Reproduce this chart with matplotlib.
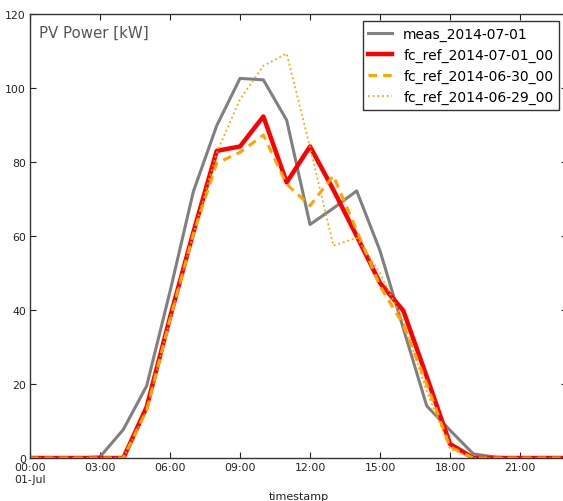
import matplotlib
matplotlib.use("Agg")
import matplotlib.pyplot as plt
import pandas as pd

hours = pd.date_range("2014-07-01 00:00", periods=24, freq="h")

meas = [0, 0, 0, 0.3, 7.7, 19.5, 45, 72, 89.8, 102.6, 102.2, 91.3,
        63.1, 67.5, 72.2, 56, 35, 14.1, 7.5, 1.1, 0.2, 0, 0, 0]
fc_0701 = [0, 0, 0, 0, 0, 13.8, 38, 61, 83, 84.2, 92.3, 74.5,
           84.2, 72.5, 60, 47.3, 39.8, 22, 3.8, 0, 0, 0, 0, 0]
fc_0630 = [0, 0, 0, 0, 0, 13, 37.5, 60.5, 79.7, 82.6, 87.3, 74,
           68.2, 76.3, 61.5, 46.5, 36, 20, 3, 0, 0, 0, 0, 0]
fc_0629 = [0, 0, 0, 0, 0, 13, 37.5, 60.5, 82.5, 97, 106, 109.3,
           84, 57.4, 59.5, 50, 37, 18, 2.5, 0, 0, 0, 0, 0]

labels = ["meas_2014-07-01", "fc_ref_2014-07-01_00",
          "fc_ref_2014-06-30_00", "fc_ref_2014-06-29_00"]
xtick_pos = pd.date_range("2014-07-01 00:00", periods=8, freq="3h")
xtick_labels = ["00:00\n01-Jul", "03:00", "06:00", "09:00",
                "12:00", "15:00", "18:00", "21:00"]
ytick_vals = [0, 20, 40, 60, 80, 100, 120]
title_text = "PV Power [kW]"
xlabel_text = "timestamp"

W, H = 563, 502
fig = plt.figure(figsize=(W / 100, H / 100), dpi=100)
fig.patch.set_facecolor("white")
left, right, top, bottom = 30, 566.7, 15, 459
ax = fig.add_axes([left / W, 1 - bottom / H, (right - left) / W, (bottom - top) / H])

ax.plot(hours, meas, color="gray", lw=2.2, label=labels[0])
ax.plot(hours, fc_0701, color="red", lw=3.2, label=labels[1])
ax.plot(hours, fc_0630, color="orange", lw=2.2, linestyle=(0, (2.8, 2.0)), label=labels[2])
ax.plot(hours, fc_0629, color="orange", lw=1.3, linestyle=(0, (1, 1.6)), label=labels[3])

ax.set_xlim(hours[0], hours[-1])
ax.set_ylim(0, 120)
ax.set_xticks(xtick_pos)
ax.set_xticklabels(xtick_labels)
ax.set_yticks(ytick_vals)
ax.minorticks_off()
ax.tick_params(direction="in", top=True, right=True, length=4, width=0.8,
               labelsize=7.8, colors="#222222", pad=3)
for s in ax.spines.values():
    s.set_color("#333333")
    s.set_linewidth(1.0)

ax.set_xlabel(xlabel_text, fontsize=8, color="#222222", labelpad=5)
ax.text(0.0175, 0.975, title_text, transform=ax.transAxes, ha="left", va="top",
        fontsize=10.8, color="#555555")

leg = ax.legend(loc="upper right", bbox_to_anchor=(559 / W, 1 - 22.3 / H),
                bbox_transform=fig.transFigure, borderaxespad=0,
                fancybox=False, framealpha=1, edgecolor="#333333",
                fontsize=10, handlelength=1.7)
leg.get_frame().set_linewidth(1.0)

fig.savefig("out.png", dpi=100, facecolor="white")
